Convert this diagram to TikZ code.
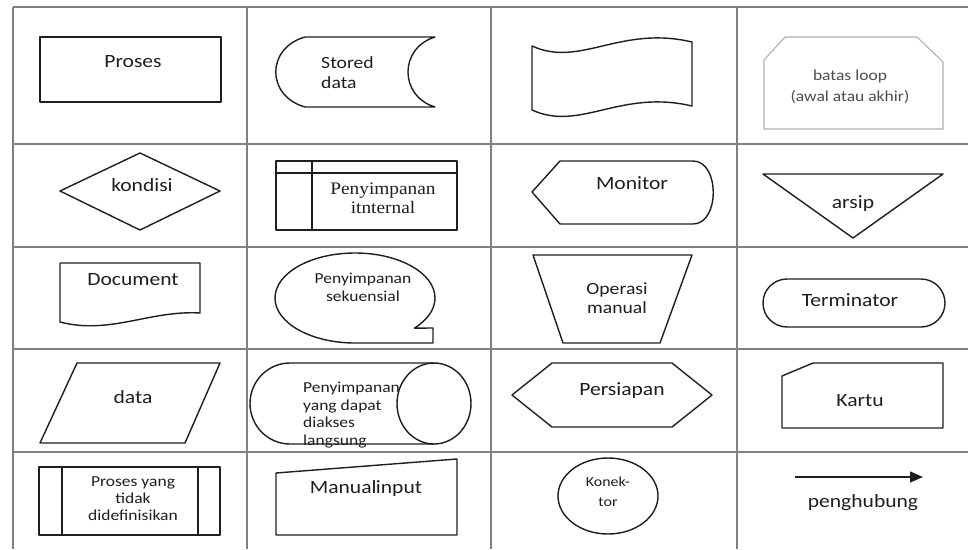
\documentclass[tikz,border=0pt]{standalone}
\usepackage{fontspec}
\setmainfont{Carlito}[FakeStretch=1.15]
\newfontfamily\seriftext{Liberation Serif}[FakeStretch=1.1]
\usetikzlibrary{arrows.meta}
\definecolor{gridgray}{RGB}{128,128,128}
\definecolor{inkgray}{RGB}{30,30,30}
\definecolor{loopgray}{RGB}{175,175,175}
\begin{document}
\begin{tikzpicture}[x=0.03cm,y=-0.03cm,
    tableline/.style={draw=gridgray,line width=1.5pt},
    outline/.style={draw=inkgray,line width=1.2pt,line join=round},
    lbl/.style={inner sep=0pt,text=inkgray,font=\fontsize{16}{19}\selectfont},
    lblmid/.style={inner sep=0pt,text=inkgray,font=\fontsize{14.6}{17}\selectfont},
    lblsmall/.style={inner sep=0pt,text=inkgray,font=\fontsize{13}{15}\selectfont}]
    \useasboundingbox (0,0) rectangle (968,549);
    %% Table
    \foreach \y in {7,144,247,349,452}
        \draw[tableline] (13,\y) -- (968,\y);
    \foreach \x in {13,247,491,737}
        \draw[tableline] (\x,7) -- (\x,549);
    %% Row 1
    \draw[outline] (40,37) rectangle (221,102);
    \node[lbl] (proses) at (133,62) {Proses};
    \draw[outline] (305,37) -- (435,37) .. controls (399,48) and (399,96) .. (435,107)
        -- (305,107) .. controls (266,96) and (266,48) .. (305,37);
    \node[lblmid,align=left,anchor=west] (stored) at (321,73) {Stored\\data};
    \draw[outline] (532,46) .. controls (580,68) and (620,25) .. (692,42) -- (692,106)
        .. controls (620,89) and (580,132) .. (532,110) -- cycle;
    \draw[draw=loopgray,line width=0.9pt] (764,129) -- (764,60) -- (785,37) -- (917,37)
        -- (943,62) -- (943,129) -- cycle;
    \node[lblsmall,align=center,text=black!70,font=\fontsize{13}{18}\selectfont] (loop) at (850,87) {batas loop\\(awal atau akhir)};
    %% Row 2
    \draw[outline] (60,191) -- (140,153) -- (220,191) -- (140,230) -- cycle;
    \node[lbl] (kondisi) at (142,185) {kondisi};
    \draw[outline] (276,161) rectangle (457,230);
    \draw[outline] (312,161) -- (312,230);
    \draw[outline] (276,173) -- (457,173);
    \node[lbl,align=center,font=\seriftext\fontsize{15}{16}\selectfont] (internal) at (383,198) {Penyimpanan\\itnternal};
    \draw[outline] (532,192) -- (560,161) -- (693,161) .. controls (720,161) and (720,224) .. (693,224)
        -- (560,224) -- cycle;
    \node[lbl] (monitor) at (632,183) {Monitor};
    \draw[outline] (763,174) -- (943,174) -- (853,238) -- cycle;
    \node[lbl] (arsip) at (853,204) {arsip};
    %% Row 3
    \draw[outline] (60,263) -- (200,263) -- (200,313) .. controls (150,310) and (110,335) .. (60,322) -- cycle;
    \node[lbl] (document) at (133,280) {Document};
    \draw[outline] (355,343) arc[start angle=90,end angle=402,x radius=80,y radius=45]
        -- (433,328) -- (433,343) -- cycle;
    \node[lblsmall,align=center,font=\fontsize{13}{15.4}\selectfont] (sekuensial) at (363,287) {Penyimpanan\\sekuensial};
    \draw[outline] (533,255) -- (692,255) -- (660,343) -- (563,343) -- cycle;
    \node[lblmid,align=center,font=\fontsize{14.6}{16}\selectfont] (operasi) at (617,298) {Operasi\\manual};
    \draw[outline,rounded corners=0.72cm] (763,279) rectangle (945,327);
    \node[lbl] (terminator) at (850,300) {Terminator};
    %% Row 4
    \draw[outline] (40,443) -- (77,363) -- (220,363) -- (185,443) -- cycle;
    \node[lbl] (data) at (133,397) {data};
    \draw[outline] (434,363) -- (290,363) arc[start angle=270,end angle=90,x radius=40,y radius=40.5]
        -- (434,444);
    \draw[outline] (434,403.5) ellipse[x radius=37,y radius=40.5];
    \node[lblsmall,align=left,anchor=west,font=\fontsize{13}{15}\selectfont] (langsung) at (303,415) {Penyimpanan\\yang dapat\\diakses\\langsung};
    \draw[outline] (512,395) -- (552,363) -- (672,363) -- (712,395) -- (672,427) -- (552,427) -- cycle;
    \node[lbl] (persiapan) at (622,391) {Persiapan};
    \draw[outline] (782,376) -- (813,363) -- (943,363) -- (943,428) -- (782,428) -- cycle;
    \node[lbl] (kartu) at (860,401) {Kartu};
    %% Row 5
    \draw[outline] (39,467) rectangle (220,535);
    \draw[outline] (62,467) -- (62,535);
    \draw[outline] (198,467) -- (198,535);
    \node[lblsmall,align=center,font=\fontsize{13}{14.5}\selectfont] (tidak) at (133,499) {Proses yang\\tidak\\didefinisikan};
    \draw[outline] (276,535) -- (276,473) -- (457,459) -- (457,535) -- cycle;
    \node[lbl] (manual) at (366,488) {Manual\kern-0.5pt input};
    \draw[outline] (608,496) ellipse[x radius=50,y radius=38];
    \node[lblsmall,align=center,font=\fontsize{11.8}{17}\selectfont] (konektor) at (608,492) {Konek-\\tor};
    \coordinate (from) at (795,477);
    \coordinate (to) at (923,477);
    \draw[outline,-{Triangle[length=0.39cm,width=0.33cm]}] (from) -- (to);
    \node[lbl] (penghubung) at (863,503) {penghubung};
\end{tikzpicture}
\end{document}
